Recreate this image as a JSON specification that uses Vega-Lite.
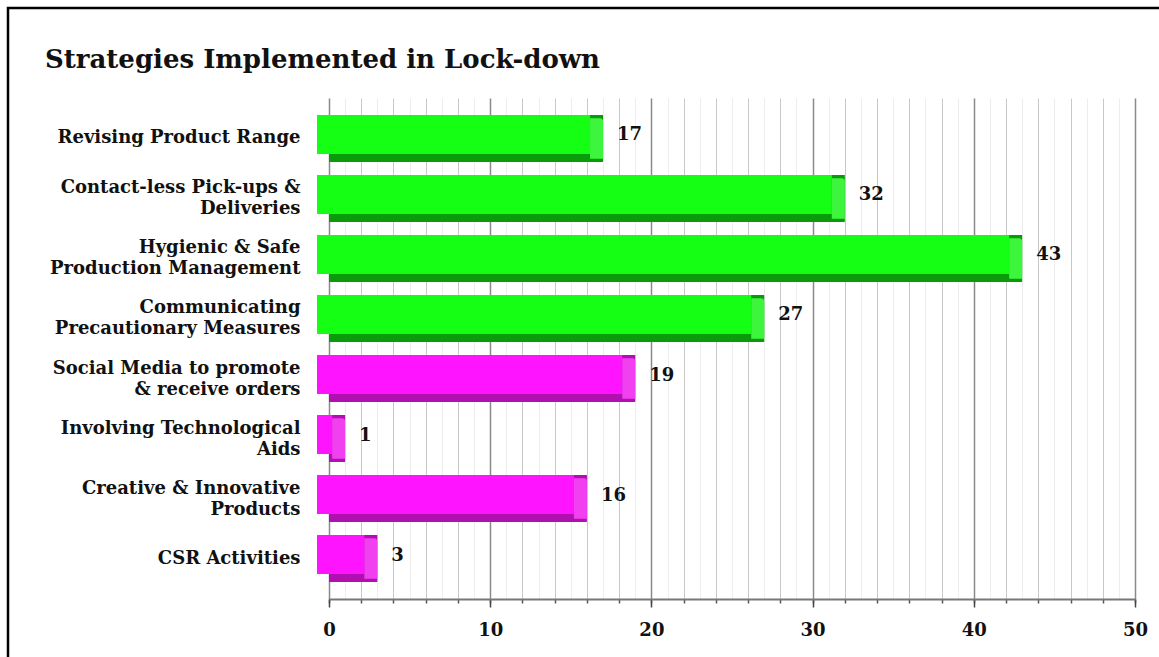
{
  "$schema": "https://vega.github.io/schema/vega-lite/v6.json",
  "autosize": "none",
  "padding": {"left": 8, "top": 8, "right": -9, "bottom": -32},
  "width": 1160,
  "height": 681,
  "background": "white",
  "config": {"view": {"stroke": "#000", "strokeWidth": 2.5}, "font": "DejaVu Serif"},
  "title": {"text": "Strategies Implemented in Lock-down", "anchor": "start", "frame": "group", "offset": -86, "baseline": "alphabetic", "dx": 37, "font": "DejaVu Serif", "fontSize": 26, "fontWeight": "bold", "color": "#111"},
  "data": {"values": [
    {"strategy": "Revising Product Range", "value": 17, "set": "A"},
    {"strategy": "Contact-less Pick-ups &\nDeliveries", "value": 32, "set": "A"},
    {"strategy": "Hygienic & Safe\nProduction Management", "value": 43, "set": "A"},
    {"strategy": "Communicating\nPrecautionary Measures", "value": 27, "set": "A"},
    {"strategy": "Social Media to promote\n& receive orders", "value": 19, "set": "B"},
    {"strategy": "Involving Technological\nAids", "value": 1, "set": "B"},
    {"strategy": "Creative & Innovative\nProducts", "value": 16, "set": "B"},
    {"strategy": "CSR Activities", "value": 3, "set": "B"}
  ]},
  "encoding": {
    "y": {"field": "strategy", "type": "nominal", "sort": null,
      "scale": {"range": [90, 591], "paddingInner": 0.2167, "paddingOuter": 0.283},
      "axis": {"orient": "left", "offset": -304, "domain": false, "ticks": false, "grid": false, "labelPadding": 12, "title": null,
        "labelExpr": "split(datum.label, '\\n')", "labelFont": "DejaVu Serif", "labelFontWeight": "bold", "labelFontSize": 18, "labelColor": "#111", "labelLineHeight": 21, "labelLimit": 0,
        "labelOffset": {"condition": {"test": "indexof(datum.value, '\\n') >= 0", "value": -10}, "value": 0}}}
  },
  "layer": [
    {
      "mark": {"type": "bar"},
      "encoding": {
        "x": {"field": "value", "type": "quantitative", "stack": null,
          "scale": {"domain": [0, 50], "range": [321, 1127], "nice": false, "zero": true},
          "axis": {"orient": "bottom", "offset": -90, "values": [0,1,2,3,4,5,6,7,8,9,10,11,12,13,14,15,16,17,18,19,20,21,22,23,24,25,26,27,28,29,30,31,32,33,34,35,36,37,38,39,40,41,42,43,44,45,46,47,48,49,50],
            "grid": true, "labels": false, "ticks": false, "domain": false, "title": null,
            "gridColor": {"condition": [{"test": "datum.value % 10 === 0", "value": "#8a8a8a"}, {"test": "datum.value % 2 === 0", "value": "#c8c8c8"}], "value": "#ededed"},
            "gridWidth": {"condition": {"test": "datum.value % 10 === 0", "value": 1.5}, "value": 1}}},
        "x2": {"datum": 0},
        "color": {"condition": {"test": "datum.set === 'A'", "value": "#0a9a0a"}, "value": "#b010b0"}
      }
    },
    {
      "mark": {"type": "bar", "height": {"band": 0.83}, "yOffset": -4, "xOffset": -13, "x2Offset": -12},
      "encoding": {
        "x": {"field": "value", "type": "quantitative", "stack": null,
          "axis": {"orient": "bottom", "offset": -90, "values": [0,2,4,6,8,10,12,14,16,18,20,22,24,26,28,30,32,34,36,38,40,42,44,46,48,50],
            "grid": false, "labels": false, "ticks": true, "tickSize": 4, "tickColor": "#555", "tickWidth": 1.5, "domain": false, "title": null}},
        "x2": {"datum": 0},
        "color": {"condition": {"test": "datum.set === 'A'", "value": "#14ff14"}, "value": "#ff14ff"}
      }
    },
    {
      "mark": {"type": "bar", "height": {"band": 0.86}, "yOffset": 0, "xOffset": -13, "cornerRadiusTopRight": 3},
      "encoding": {
        "x": {"field": "value", "type": "quantitative", "stack": null, "axis": null},
        "x2": {"field": "value"},
        "color": {"condition": {"test": "datum.set === 'A'", "value": "#3ef53e"}, "value": "#f040f0"}
      }
    },
    {
      "mark": {"type": "text", "align": "left", "baseline": "middle", "dx": 14, "yOffset": -3, "font": "DejaVu Serif", "fontWeight": "bold", "fontSize": 18, "color": "#111"},
      "encoding": {
        "x": {"field": "value", "type": "quantitative",
          "axis": {"orient": "bottom", "offset": -90, "values": [0, 10, 20, 30, 40, 50], "grid": false, "ticks": true, "tickSize": 8, "tickColor": "#444", "tickWidth": 1.5,
            "domain": true, "domainColor": "#777", "domainWidth": 2, "title": null, "labelPadding": 14,
            "labelFont": "DejaVu Serif", "labelFontWeight": "bold", "labelFontSize": 18, "labelColor": "#111", "labelFlush": false}},
        "text": {"field": "value", "type": "quantitative"}
      }
    }
  ],
  "resolve": {"axis": {"x": "independent"}}
}
